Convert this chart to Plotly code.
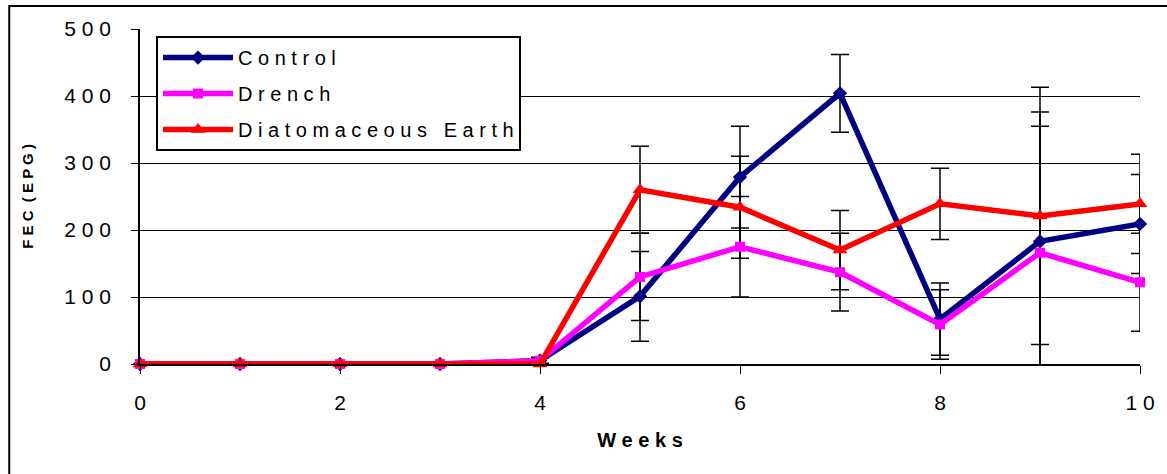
import plotly.graph_objects as go

weeks = [0, 1, 2, 3, 4, 5, 6, 7, 8, 9, 10]

control = [0, 0, 0, 0, 5, 101, 279, 404, 67, 183, 209]
control_err = [1, 1, 1, 1, 5, 67, 76, 58, 54, 193, 74]

drench = [0, 0, 0, 0, 5, 130, 175, 137, 59, 166, 122]
drench_err = [1, 1, 1, 1, 4, 65, 75, 58, 52, 189, 73]

de = [0, 0, 0, 0, 0, 260, 234, 170, 239, 221, 239]
de_err = [0, 0, 0, 0, 0, 65, 76, 59, 53, 192, 74]

y_ticks = [0, 100, 200, 300, 400, 500]
x_ticks = [0, 2, 4, 6, 8, 10]


def spaced(s):
    return " ".join(list(s))


series = [
    ("Control", control, control_err, "#000080", "diamond", 11),
    ("Drench", drench, drench_err, "#FF00FF", "square", 10),
    ("Diatomaceous Earth", de, de_err, "#FF0000", "triangle-up", 13),
]

FONT = "Arial, Liberation Sans, sans-serif"

fig = go.Figure()

# error bars (clipped to plot area)
for name, vals, errs, color, sym, size in series:
    fig.add_trace(go.Scatter(
        x=weeks, y=vals, mode="markers",
        marker=dict(size=2, opacity=0),
        error_y=dict(type="data", array=errs, visible=True,
                     color="black", thickness=1.5, width=9),
        showlegend=False, hoverinfo="skip", cliponaxis=True,
    ))

for i, (name, vals, errs, color, sym, size) in enumerate(series):
    fig.add_trace(go.Scatter(
        x=weeks, y=vals, mode="lines+markers",
        name=spaced(name),
        line=dict(color=color, width=5.5),
        marker=dict(symbol=sym, size=size, color=color),
        legendgroup=f"g{i}",
        cliponaxis=False,
    ))

fig.update_layout(
    width=1167, height=474, autosize=False,
    margin=dict(l=140, r=25, t=29, b=110),
    paper_bgcolor="white", plot_bgcolor="white",
    font=dict(family=FONT, color="black", size=20),
    showlegend=True,
    legend=dict(
        x=0.016, y=0.979, xanchor="left", yanchor="top",
        bgcolor="white", bordercolor="black", borderwidth=2,
        font=dict(size=20, family=FONT),
        tracegroupgap=7, traceorder="grouped", itemwidth=70,
    ),
    xaxis=dict(
        range=[0, 10], tickvals=x_ticks,
        ticktext=[spaced(str(v)) for v in x_ticks],
        showline=True, linecolor="black", linewidth=1.5,
        ticks="outside", ticklen=8, tickcolor="black", tickwidth=1,
        showgrid=False, zeroline=False,
        tickfont=dict(size=21), ticklabelstandoff=11,
        title=dict(text="<b>" + spaced("Weeks") + "</b>", font=dict(size=20), standoff=20),
    ),
    yaxis=dict(
        range=[0, 500], tickvals=y_ticks,
        ticktext=[spaced(str(v)) for v in y_ticks],
        showline=True, linecolor="black", linewidth=1.5,
        ticks="outside", ticklen=7, tickcolor="black", tickwidth=1,
        showgrid=True, gridcolor="black", gridwidth=1, zeroline=False,
        tickfont=dict(size=21), ticklabelstandoff=16,
        title=dict(text="<b>" + "F E C  ( E P G )" + "</b>", font=dict(size=15), standoff=27),
    ),
    shapes=[dict(type="rect", xref="paper", yref="paper",
                 x0=(9 - 140) / 1002, x1=(1175 - 140) / 1002,
                 y0=(364 - 480) / 335, y1=(364 - 6) / 335,
                 line=dict(color="black", width=2), fillcolor="rgba(0,0,0,0)",
                 layer="below")],
)

fig.write_html("out.html", config={"displayModeBar": False},
               post_script="document.body.style.margin='0';")
